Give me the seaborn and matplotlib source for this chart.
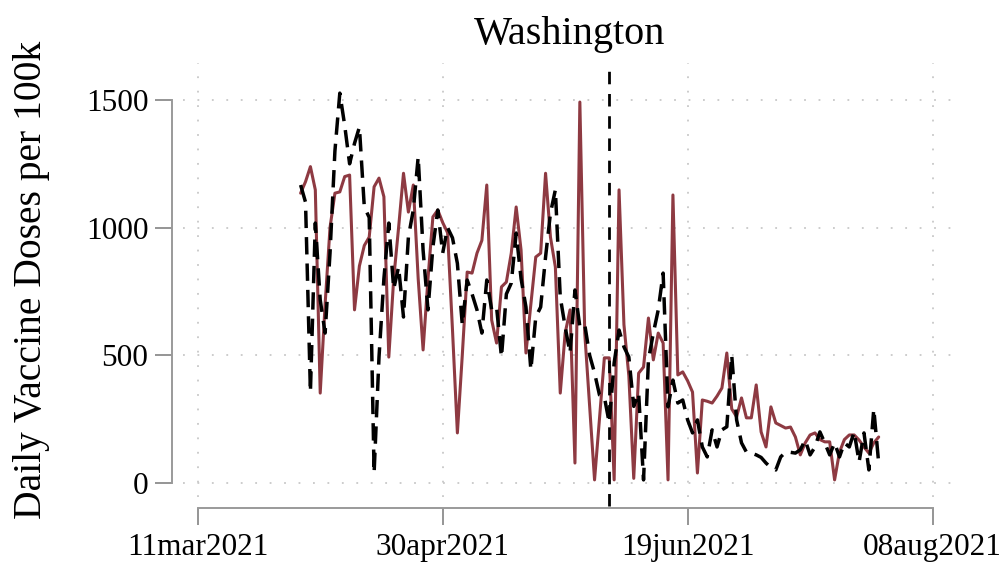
import numpy as np
import pandas as pd
import seaborn as sns
import matplotlib.pyplot as plt

# daily doses per 100k, 01apr2021 - 28jul2021
red_vals = [1135, 1180, 1239, 1148, 352, 700, 1000, 1135, 1140, 1200,
            1206, 678, 850, 930, 963, 1160, 1194, 1121, 493, 800,
            1000, 1213, 1061, 1167, 800, 521, 800, 1042, 1069, 1020,
            980, 600, 196, 500, 826, 822, 900, 950, 1167, 638,
            548, 768, 787, 900, 1081, 912, 509, 700, 885, 900,
            1213, 963, 846, 352, 587, 678, 78, 1492, 587, 300,
            12, 250, 490, 490, 12, 1148, 620, 420, 18, 430,
            454, 646, 482, 587, 548, 12, 1128, 423, 435, 400,
            356, 39, 325, 320, 313, 340, 372, 509, 290, 259,
            333, 255, 255, 384, 200, 141, 298, 235, 225, 215,
            219, 180, 110, 157, 188, 196, 170, 161, 161, 12,
            121, 170, 188, 188, 168, 141, 117, 157, 180]

black_vals = [1167, 1100, 356, 1018, 717, 587, 900, 1300, 1527, 1400,
              1250, 1330, 1394, 1081, 1040, 39, 493, 800, 1018, 760,
              846, 650, 963, 1069, 1277, 912, 678, 924, 1069, 900,
              1000, 960, 860, 620, 795, 740, 678, 587, 795, 678,
              689, 493, 740, 783, 979, 800, 689, 443, 650, 689,
              885, 1057, 1148, 728, 611, 509, 756, 611, 620, 500,
              431, 345, 337, 235, 470, 599, 533, 493, 300, 352,
              12, 482, 587, 678, 822, 298, 403, 313, 325, 247,
              196, 247, 141, 102, 208, 141, 208, 220, 501, 247,
              157, 121, 117, 110, 100, 78, 60, 51, 102, 121,
              120, 117, 130, 168, 110, 141, 200, 157, 110, 157,
              102, 157, 141, 200, 82, 196, 51, 290, 78]

start_date = "2021-04-01"
event_date = "2021-06-03"
tick_dates = ["2021-03-11", "2021-04-30", "2021-06-19", "2021-08-08"]
tick_labels = ["11mar2021", "30apr2021", "19jun2021", "08aug2021"]
y_ticks = [0, 500, 1000, 1500]

dates = pd.date_range(start_date, periods=len(red_vals), freq="D")
df = pd.DataFrame({"date": dates, "red": red_vals, "black": black_vals})

sns.set_style("white")
plt.rcParams["font.family"] = ["Liberation Serif", "DejaVu Serif"]

fig = plt.figure(figsize=(10.03, 5.71), dpi=100)
ax = fig.add_axes([0.1825, 0.1296, 0.7717, 0.7601])

grid_kw = dict(color="#c8c8c8", linewidth=1.3, linestyle=(0, (1, 7)), zorder=0)
for t in tick_dates:
    ax.axvline(pd.Timestamp(t), **grid_kw)
for v in y_ticks:
    ax.axhline(v, **grid_kw)

sns.lineplot(data=df, x="date", y="red", ax=ax, color="#8e3a42", linewidth=2.2)
sns.lineplot(data=df, x="date", y="black", ax=ax, color="black", linewidth=2.5,
             linestyle=(0, (5, 2.6)))
ax.axvline(pd.Timestamp(event_date), ymin=-0.02, ymax=0.99, clip_on=False,
           color="black", linewidth=2.0, linestyle=(0, (4.5, 3.5)))

ax.set_xlim(pd.Timestamp("2021-03-08"), pd.Timestamp("2021-08-13"))
ax.set_ylim(-55, 1645)
ax.set_xticks(pd.to_datetime(tick_dates))
ax.set_xticklabels(tick_labels)
ax.set_yticks(y_ticks)

ax.tick_params(axis="both", bottom=True, left=True, direction="out",
               colors="#8c8c8c", length=12, width=1.3, labelsize=22.5,
               labelcolor="black")
ax.tick_params(axis="x", pad=6)
ax.tick_params(axis="y", pad=5)

sns.despine(ax=ax, offset=8, trim=True)
for s in ["left", "bottom"]:
    ax.spines[s].set_color("#9a9a9a")
    ax.spines[s].set_linewidth(1.4)

ax.set_xlabel("")
ax.set_ylabel("Daily Vaccine Doses per 100k", fontsize=28.5, color="black")
ax.yaxis.set_label_coords(-0.172, 0.5)
ax.set_title("Washington", fontsize=29, pad=14, color="black")

fig.savefig("out.png", dpi=100)
